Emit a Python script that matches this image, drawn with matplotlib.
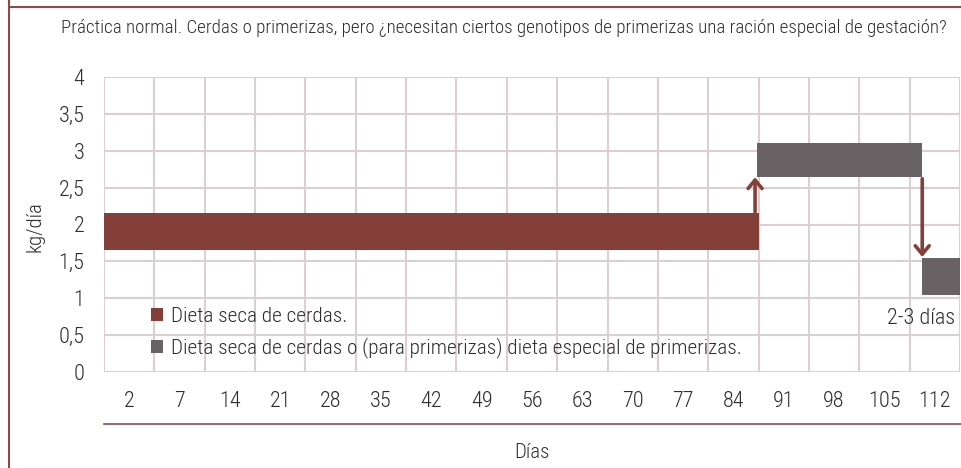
import matplotlib
matplotlib.use("Agg")
import matplotlib.pyplot as plt
from matplotlib.patches import Patch
from matplotlib.lines import Line2D
import numpy as np

plt.rcParams['font.family'] = ['Roboto Condensed', 'Liberation Sans', 'DejaVu Sans']
plt.rcParams['font.weight'] = 'light'

# ---- data ----
day_labels = ["2", "7", "14", "21", "28", "35", "42", "49", "56", "63", "70", "77", "84", "91", "98", "105", "112"]
y_ticks = [0, 0.5, 1, 1.5, 2, 2.5, 3, 3.5, 4]
y_tick_labels = ["0", "0,5", "1", "1,5", "2", "2,5", "3", "3,5", "4"]
# segments in column units (index of day columns)
seg_start = [0.0, 12.97, 16.25]
seg_end = [13.0, 16.25, 17.0]
seg_low = [1.65, 2.65, 1.05]
seg_high = [2.15, 3.10, 1.55]
seg_series = [0, 1, 1]
series_names = ["Dieta seca de cerdas.",
                "Dieta seca de cerdas o (para primerizas) dieta especial de primerizas."]
series_colors = ["#843F38", "#686264"]
# arrows: (x, y_from, y_to)
arrow_x = [12.93, 16.25]
arrow_from = [2.17, 2.62]
arrow_to = [2.64, 1.56]

title = "Práctica normal. Cerdas o primerizas, pero ¿necesitan ciertos genotipos de primerizas una ración especial de gestación?"

W, H = 962, 468
fig = plt.figure(figsize=(W / 100, H / 100), dpi=100)
ax = fig.add_axes([104 / W, 1 - 372 / H, (960 - 104) / W, (372 - 77) / H])

grid_c = "#DACFD2"
border_c = "#8B4A45"
text_c = "#2E2E2E"

ax.set_xlim(0, len(day_labels))
ax.set_ylim(0, 4)

for i in range(len(day_labels) + 1):
    ax.axvline(i, color=grid_c, lw=1.5, zorder=0)
for yv in y_ticks:
    ax.axhline(yv, color=grid_c, lw=1.5, zorder=0)
for s in ax.spines.values():
    s.set_visible(False)

s0, e0 = np.array(seg_start), np.array(seg_end)
lo, hi = np.array(seg_low), np.array(seg_high)
ax.bar(s0, hi - lo, width=e0 - s0, bottom=lo, align='edge',
       color=[series_colors[k] for k in seg_series], zorder=3, clip_on=False)

for x, y0, y1 in zip(arrow_x, arrow_from, arrow_to):
    ax.annotate("", xy=(x, y1), xytext=(x, y0),
                arrowprops=dict(arrowstyle="->,head_length=0.6,head_width=0.5",
                                color=series_colors[0], lw=2.6, shrinkA=0, shrinkB=0),
                zorder=4)

ax.set_xticks(np.arange(len(day_labels)) + 0.5)
ax.set_xticklabels(day_labels, fontsize=16, color=text_c)
ax.set_yticks(y_ticks)
ax.set_yticklabels(y_tick_labels, fontsize=16, color=text_c)
ax.tick_params(axis='x', length=0, pad=14)
ax.tick_params(axis='y', length=0, pad=14)

ax.text(16.9, 0.73, "2-3 días", ha='right', va='center', fontsize=16, color=text_c)

handles = [Patch(facecolor=c, edgecolor='none') for c in series_colors]
leg = ax.legend(handles, series_names, loc='center left', bbox_to_anchor=(0.055, 0.134),
                frameon=False, fontsize=15.3, handlelength=0.55, handleheight=0.55,
                handletextpad=0.4, labelspacing=0.55, borderpad=0, borderaxespad=0)
for t in leg.get_texts():
    t.set_color(text_c)

fig.text(35 / W, 1 - 227 / H, "kg/día", rotation=90, ha='center', va='center',
         fontsize=15, color=text_c)
fig.text(61 / W, 1 - 28 / H, title, ha='left', va='center', fontsize=13.65, color=text_c)
fig.text(532 / W, 1 - 452 / H, "Días", ha='center', va='center', fontsize=15, color=text_c)

fig.add_artist(Line2D([104 / W, 1], [1 - 424 / H] * 2, color=border_c, lw=1.2))
fig.add_artist(Line2D([9 / W, 9 / W], [0, 1], color=border_c, lw=1.5))
fig.add_artist(Line2D([9 / W, 1], [1 - 7 / H] * 2, color=border_c, lw=1.5))

fig.savefig("out.png", dpi=100)
